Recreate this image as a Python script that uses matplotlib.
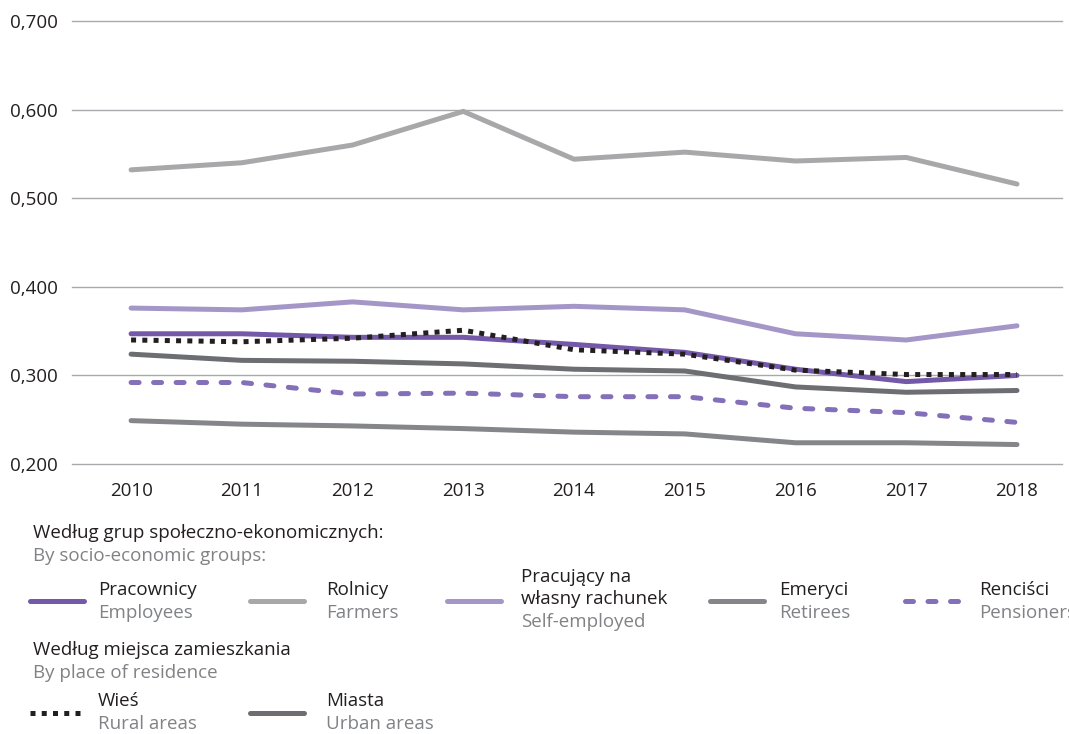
import matplotlib.pyplot as plt
import numpy as np

plt.rcParams['font.family'] = ['Open Sans', 'DejaVu Sans']

years = [2010, 2011, 2012, 2013, 2014, 2015, 2016, 2017, 2018]

employees = [0.347, 0.347, 0.343, 0.343, 0.335, 0.326, 0.307, 0.293, 0.300]
farmers = [0.532, 0.540, 0.560, 0.598, 0.544, 0.552, 0.542, 0.546, 0.516]
self_employed = [0.376, 0.374, 0.383, 0.374, 0.378, 0.374, 0.347, 0.340, 0.356]
retirees = [0.249, 0.245, 0.243, 0.240, 0.236, 0.234, 0.224, 0.224, 0.222]
pensioners = [0.292, 0.292, 0.279, 0.280, 0.276, 0.276, 0.263, 0.258, 0.247]
rural = [0.340, 0.338, 0.342, 0.351, 0.329, 0.324, 0.306, 0.301, 0.301]
urban = [0.324, 0.317, 0.316, 0.313, 0.307, 0.305, 0.287, 0.281, 0.283]

yticks = [0.2, 0.3, 0.4, 0.5, 0.6, 0.7]
ytick_labels = ['0,200', '0,300', '0,400', '0,500', '0,600', '0,700']

TXT = '#231f20'
SUB = '#808285'
LW = 3.6
FS = 13.5

styles = {
    'employees': dict(color='#7359a8', lw=LW, solid_capstyle='round'),
    'farmers': dict(color='#a8a8aa', lw=LW, solid_capstyle='round'),
    'self': dict(color='#a497c8', lw=LW, solid_capstyle='round'),
    'retirees': dict(color='#858689', lw=LW, solid_capstyle='round'),
    'pensioners': dict(color='#8470b8', lw=LW, dashes=(1.6, 2.9), dash_capstyle='round'),
    'rural': dict(color='#231f20', lw=LW, dashes=(1.0, 1.25), dash_capstyle='butt'),
    'urban': dict(color='#6d6e71', lw=LW, solid_capstyle='round'),
}

fig = plt.figure(figsize=(10.69, 7.34), dpi=100)
ax = fig.add_axes([0.0674, 0.3678, 0.926, 0.6036])

ax.plot(years, farmers, **styles['farmers'])
ax.plot(years, self_employed, **styles['self'])
ax.plot(years, urban, **styles['urban'])
ax.plot(years, retirees, **styles['retirees'])
ax.plot(years, pensioners, **styles['pensioners'])
ax.plot(years, employees, **styles['employees'])
ax.plot(years, rural, **styles['rural'])

ax.set_xlim(2009.467, 2018.406)
ax.set_ylim(0.2, 0.7)
ax.set_yticks(yticks)
ax.set_yticklabels(ytick_labels)
ax.set_xticks(years)
ax.grid(axis='y', color='#a7a9ac', lw=1)
for gl in ax.get_ygridlines():
    gl.set_clip_on(False)
ax.set_axisbelow(True)
for s in ax.spines.values():
    s.set_visible(False)
ax.tick_params(length=0, labelsize=FS, colors=TXT)
ax.tick_params(axis='y', pad=10)
ax.tick_params(axis='x', pad=13)

W, H = 1069, 734

def ftext(x, y, s, color=TXT):
    fig.text(x / W, 1 - y / H, s, color=color, fontsize=FS, va='center', ha='left')

def handle(x0, y, key):
    st = dict(styles[key])
    ln = plt.Line2D([x0 / W, (x0 + 54) / W], [1 - y / H, 1 - y / H], transform=fig.transFigure, **st)
    fig.add_artist(ln)

ftext(33, 533, 'Według grup społeczno-ekonomicznych:')
ftext(33, 556, 'By socio-economic groups:', SUB)

items = [
    (30, 98, 'employees', ['Pracownicy'], 'Employees'),
    (250, 326, 'farmers', ['Rolnicy'], 'Farmers'),
    (447, 521, 'self', ['Pracujący na', 'własny rachunek'], 'Self-employed'),
    (710, 779, 'retirees', ['Emeryci'], 'Retirees'),
    (905, 979, 'pensioners', ['Renciści'], 'Pensioners'),
]
for hx, tx, key, pl, en in items:
    handle(hx, 601, key)
    if len(pl) == 1:
        ftext(tx, 590, pl[0])
        ftext(tx, 613, en, SUB)
    else:
        ftext(tx, 577, pl[0])
        ftext(tx, 599, pl[1])
        ftext(tx, 622, en, SUB)

ftext(33, 650, 'Według miejsca zamieszkania')
ftext(33, 673, 'By place of residence', SUB)

handle(30, 713, 'rural')
ftext(98, 701, 'Wieś')
ftext(98, 724, 'Rural areas', SUB)
handle(250, 713, 'urban')
ftext(326, 701, 'Miasta')
ftext(326, 724, 'Urban areas', SUB)

fig.savefig('out.png', dpi=100)
